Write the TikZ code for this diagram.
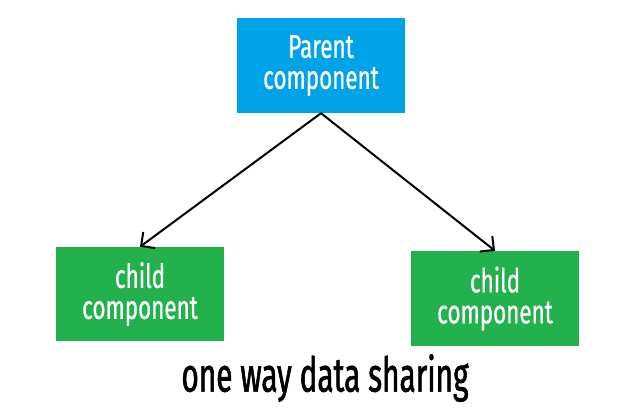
\documentclass[tikz,border=0pt]{standalone}
\usepackage{fontspec}
\usetikzlibrary{arrows.meta}
\newfontfamily\boxfont[FakeStretch=0.68,FakeBold=0.6]{Fira Sans}
\newfontfamily\capfont[FakeStretch=0.62,FakeBold=1.2]{Fira Sans}
\definecolor{parentblue}{HTML}{00A2E8}
\definecolor{childgreen}{HTML}{22B14C}
\tikzset{
	comp/.style={minimum width=168pt,minimum height=95pt,inner sep=0pt,
		text=white,align=center,font=\boxfont\fontsize{33}{31}\selectfont},
	link/.style={line width=2pt,-{Straight Barb[length=10pt,width=20pt,line width=2pt]}}
}
\begin{document}
\begin{tikzpicture}[x=1pt,y=1pt]
	\useasboundingbox (0,0) rectangle (634,410);
	\node[comp,fill=parentblue] (P) at (321,344.5) {Parent\\component};
	\node[comp,fill=childgreen,minimum height=94pt] (L) at (140,116) {child\\component};
	\node[comp,fill=childgreen] (R) at (495,111.5) {child\\component};
	\node[font=\capfont\fontsize{48}{48}\selectfont] (S) at (325,32) {one way data sharing};
	\draw[link] (P.south) -- (L.north);
	\draw[link] (P.south) -- (R.north);
\end{tikzpicture}
\end{document}
